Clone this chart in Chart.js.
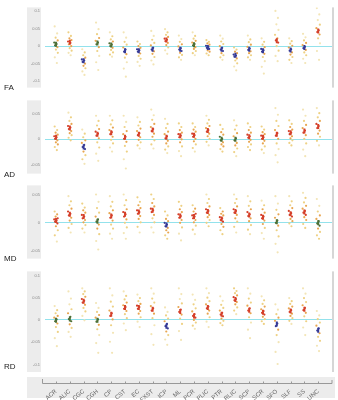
<!DOCTYPE html>
<html>
<head>
<meta charset="utf-8">
<script src="https://cdn.jsdelivr.net/npm/chart.js@4.4.1/dist/chart.umd.min.js"></script>
<style>
  body { margin: 0; background: #fff; }
  #wrap { position: relative; width: 338px; height: 400px; overflow: hidden; }
  #wrap canvas { position: absolute; left: 0; }
  .lab { position: absolute; left: 4px; font: 8px "Liberation Sans", Arial, sans-serif; color: #222; }
</style>
</head>
<body>
<div id="wrap">
  <canvas id="fa" width="338" height="95" style="top:0px"></canvas>
  <canvas id="ad" width="338" height="88" style="top:93px"></canvas>
  <canvas id="md" width="338" height="88" style="top:178px"></canvas>
  <canvas id="rd" width="338" height="136" style="top:264px"></canvas>
  <div class="lab" style="top:83px">FA</div>
  <div class="lab" style="top:170px">AD</div>
  <div class="lab" style="top:254px">MD</div>
  <div class="lab" style="top:362px">RD</div>
</div>
<script>
const tracts = ['ACR', 'ALIC', 'CGC', 'CGH', 'CP', 'CST', 'EC', 'FXST', 'ICP', 'ML',
                'PCR', 'PLIC', 'PTR', 'RLIC', 'SCP', 'SCR', 'SFO', 'SLF', 'SS', 'UNC'];

const faTicks = [-0.1, -0.05, 0, 0.05, 0.1];
const adTicks = [-0.05, 0, 0.05];
const mdTicks = [-0.05, 0, 0.05];
const rdTicks = [-0.1, -0.05, 0, 0.05, 0.1];

// all values below are x100
const faMeans = [0.5, 1.1, -4.2, 0.9, 0.3, -1.3, -1.3, -0.9, 1.7, -0.9, 0.4, -0.4, -0.9, -2.6, -0.9, -1.3, 1.5, -1.1, -0.4, 4.3];
const faPoints = [
  [5.6, 3.6, 2.4, 1.6, 1.0, 0.6, 0.2, -0.3, -1.0, -1.9, -3.2, -4.8],
  [3.9, 2.9, 2.2, 1.7, 1.3, 0.9, 0.5, 0.0, -0.6, -1.3, -1.9, -2.6],
  [-0.9, -1.8, -2.6, -3.3, -3.8, -4.1, -4.5, -5.0, -5.6, -6.3, -7.2, -8.2],
  [6.7, 4.8, 3.4, 2.3, 1.5, 1.0, 0.5, -0.3, -1.4, -2.8, -4.6, -6.8],
  [3.9, 2.8, 1.9, 1.3, 0.8, 0.4, 0.0, -0.5, -1.1, -1.8, -2.4, -3.0],
  [3.9, 2.4, 1.2, 0.4, -0.4, -1.0, -1.6, -2.3, -3.3, -4.6, -6.4, -8.7],
  [1.3, 0.6, 0.0, -0.5, -0.9, -1.2, -1.6, -2.1, -2.8, -3.6, -4.5, -5.6],
  [4.3, 2.9, 1.8, 0.9, 0.2, -0.5, -1.0, -1.5, -2.2, -3.1, -4.1, -5.2],
  [4.8, 3.9, 3.2, 2.6, 2.1, 1.8, 1.4, 0.9, 0.3, -0.4, -1.2, -2.2],
  [3.0, 2.0, 1.2, 0.5, -0.1, -0.6, -1.0, -1.4, -1.9, -2.5, -3.2, -3.9],
  [3.9, 2.9, 2.1, 1.5, 1.0, 0.6, 0.2, -0.3, -0.8, -1.4, -2.0, -2.6],
  [1.7, 1.2, 0.8, 0.4, 0.1, -0.2, -0.5, -0.8, -1.2, -1.6, -2.1, -2.6],
  [3.0, 2.1, 1.3, 0.6, 0.0, -0.5, -1.0, -1.4, -2.0, -2.6, -3.2, -3.9],
  [-0.4, -1.0, -1.6, -2.0, -2.4, -2.7, -3.0, -3.5, -4.1, -4.9, -5.8, -6.9],
  [3.0, 1.9, 1.1, 0.4, -0.2, -0.7, -1.1, -1.5, -2.0, -2.6, -3.2, -3.9],
  [2.2, 1.2, 0.4, -0.3, -0.8, -1.2, -1.6, -2.2, -3.1, -4.3, -5.9, -7.8],
  [10.0, 8.0, 6.2, 4.6, 3.2, 2.2, 1.6, 1.0, 0.0, -1.3, -2.8, -4.3],
  [2.2, 1.4, 0.7, 0.1, -0.4, -0.9, -1.3, -1.8, -2.4, -3.1, -3.9, -4.8],
  [3.5, 2.5, 1.6, 0.9, 0.3, -0.2, -0.6, -1.1, -1.8, -2.6, -3.6, -4.8],
  [10.8, 9.0, 7.4, 6.1, 5.1, 4.5, 4.0, 3.3, 2.2, 0.8, -1.4, -3.9]
];

const adMeans = [0.4, 2.2, -1.5, 1.0, 1.3, 0.4, 1.0, 1.8, 0.4, 0.7, 0.8, 1.7, 0.0, 0.0, 0.5, 0.4, 1.0, 1.3, 1.6, 2.5];
const adPoints = [
  [2.5, 1.8, 1.3, 0.9, 0.6, 0.4, 0.1, -0.2, -0.6, -1.0, -1.5, -2.1],
  [5.2, 4.3, 3.6, 3.0, 2.6, 2.3, 2.0, 1.6, 1.2, 0.8, 0.3, -0.2],
  [1.9, 1.1, 0.4, -0.2, -0.7, -1.1, -1.5, -1.9, -2.4, -3.1, -3.9, -4.8],
  [4.6, 3.6, 2.7, 2.0, 1.5, 1.1, 0.7, 0.2, -0.6, -1.6, -2.8, -4.2],
  [4.6, 3.7, 2.9, 2.3, 1.8, 1.4, 1.0, 0.5, -0.1, -0.8, -1.6, -2.4],
  [4.6, 3.4, 2.4, 1.6, 1.0, 0.5, 0.1, -0.5, -1.3, -2.4, -3.9, -5.7],
  [4.3, 3.4, 2.7, 2.1, 1.6, 1.2, 0.8, 0.4, -0.1, -0.6, -1.2, -1.8],
  [5.8, 4.7, 3.8, 3.0, 2.4, 2.0, 1.6, 1.1, 0.5, -0.2, -1.0, -1.8],
  [4.0, 3.0, 2.2, 1.5, 1.0, 0.6, 0.2, -0.3, -0.8, -1.4, -2.0, -2.7],
  [3.1, 2.4, 1.8, 1.3, 1.0, 0.7, 0.4, 0.0, -0.6, -1.4, -2.3, -3.3],
  [3.1, 2.4, 1.9, 1.5, 1.1, 0.8, 0.5, 0.1, -0.4, -1.0, -1.7, -2.4],
  [4.6, 3.8, 3.1, 2.6, 2.2, 1.8, 1.5, 1.1, 0.6, 0.1, -0.5, -1.2],
  [2.8, 2.0, 1.4, 0.9, 0.5, 0.1, -0.2, -0.6, -1.0, -1.4, -1.9, -2.4],
  [3.7, 2.7, 1.9, 1.2, 0.6, 0.2, -0.2, -0.7, -1.2, -1.8, -2.5, -3.3],
  [3.1, 2.4, 1.8, 1.3, 0.9, 0.6, 0.3, -0.1, -0.5, -1.0, -1.5, -2.1],
  [2.5, 1.9, 1.4, 1.0, 0.7, 0.4, 0.1, -0.3, -0.8, -1.4, -2.0, -2.7],
  [6.1, 4.8, 3.6, 2.6, 1.8, 1.2, 0.7, 0.1, -0.8, -1.9, -3.1, -4.5],
  [3.7, 3.0, 2.4, 1.9, 1.6, 1.3, 1.0, 0.6, 0.2, -0.2, -0.7, -1.2],
  [5.8, 4.6, 3.6, 2.8, 2.2, 1.7, 1.3, 0.8, 0.1, -0.8, -2.0, -3.3],
  [6.1, 5.1, 4.3, 3.6, 3.0, 2.6, 2.2, 1.7, 1.1, 0.5, -0.3, -1.2]
];

const mdMeans = [0.4, 1.5, 1.1, 0.3, 1.2, 1.5, 1.9, 2.2, -0.4, 1.2, 1.1, 2.0, 0.7, 2.0, 1.4, 1.0, 0.2, 1.6, 1.9, 0.0];
const mdPoints = [
  [2.0, 1.5, 1.1, 0.8, 0.6, 0.4, 0.2, -0.1, -0.6, -1.3, -2.2, -3.3],
  [4.7, 3.8, 3.1, 2.5, 2.0, 1.6, 1.3, 0.9, 0.4, -0.2, -0.9, -1.7],
  [3.4, 2.7, 2.2, 1.8, 1.4, 1.1, 0.8, 0.5, 0.1, -0.4, -1.0, -1.7],
  [5.0, 3.7, 2.6, 1.8, 1.1, 0.6, 0.2, -0.3, -1.0, -2.0, -3.2, -4.7],
  [4.7, 3.7, 2.9, 2.2, 1.7, 1.3, 0.9, 0.4, -0.3, -1.0, -1.9, -2.8],
  [5.0, 4.0, 3.1, 2.4, 1.9, 1.5, 1.1, 0.6, 0.0, -0.8, -1.8, -2.8],
  [4.5, 3.7, 3.1, 2.6, 2.2, 1.9, 1.6, 1.2, 0.7, 0.1, -0.7, -1.7],
  [5.0, 4.2, 3.5, 2.9, 2.5, 2.2, 1.9, 1.4, 0.8, 0.1, -0.8, -1.7],
  [2.0, 1.3, 0.7, 0.3, 0.0, -0.3, -0.6, -0.9, -1.3, -1.7, -2.2, -2.8],
  [3.7, 3.0, 2.4, 1.9, 1.5, 1.2, 0.9, 0.5, 0.0, -0.8, -1.9, -3.1],
  [3.1, 2.5, 2.0, 1.6, 1.3, 1.1, 0.8, 0.5, 0.1, -0.5, -1.2, -2.0],
  [5.0, 4.2, 3.5, 2.9, 2.4, 2.1, 1.8, 1.4, 1.0, 0.5, 0.0, -0.6],
  [2.6, 2.0, 1.6, 1.3, 1.0, 0.8, 0.5, 0.2, -0.2, -0.7, -1.3, -2.0],
  [5.0, 4.2, 3.5, 2.9, 2.4, 2.1, 1.8, 1.4, 0.8, 0.2, -0.7, -1.7],
  [4.7, 3.8, 3.0, 2.4, 1.9, 1.5, 1.2, 0.8, 0.3, -0.4, -1.2, -2.0],
  [3.9, 3.1, 2.4, 1.8, 1.4, 1.1, 0.8, 0.4, -0.2, -0.9, -1.8, -2.8],
  [4.7, 3.4, 2.3, 1.5, 0.9, 0.4, 0.0, -0.5, -1.3, -2.4, -3.7, -5.2],
  [4.7, 3.8, 3.1, 2.6, 2.1, 1.7, 1.4, 1.1, 0.7, 0.3, -0.1, -0.6],
  [5.3, 4.4, 3.6, 3.0, 2.5, 2.1, 1.8, 1.4, 1.0, 0.5, -0.2, -0.9],
  [4.2, 3.0, 2.0, 1.3, 0.7, 0.3, -0.1, -0.5, -1.0, -1.6, -2.2, -2.8]
];

const rdMeans = [-0.1, 0.2, 4.2, -0.1, 1.3, 2.8, 2.8, 2.4, -1.4, 1.9, 0.9, 2.8, 1.3, 4.6, 2.2, 1.7, -0.9, 2.0, 2.4, -2.3];
const rdPoints = [
  [3.1, 2.2, 1.5, 0.9, 0.5, 0.1, -0.3, -0.8, -1.6, -2.7, -4.1, -5.9],
  [6.4, 4.8, 3.5, 2.4, 1.5, 0.7, 0.2, -0.3, -1.0, -1.8, -2.7, -3.8],
  [7.1, 6.4, 5.8, 5.2, 4.7, 4.3, 3.9, 3.4, 2.7, 1.9, 0.9, -0.1],
  [3.8, 2.7, 1.8, 1.1, 0.5, 0.1, -0.4, -1.1, -2.1, -3.4, -5.2, -7.4],
  [7.1, 5.5, 4.1, 3.0, 2.1, 1.5, 0.9, 0.1, -1.2, -2.9, -4.9, -7.4],
  [6.4, 5.4, 4.6, 3.9, 3.3, 2.9, 2.5, 2.0, 1.3, 0.4, -0.8, -2.3],
  [5.7, 4.9, 4.2, 3.6, 3.2, 2.9, 2.5, 2.0, 1.4, 0.6, -0.4, -1.6],
  [7.1, 5.9, 4.8, 3.9, 3.1, 2.6, 2.1, 1.4, 0.4, -1.2, -3.2, -5.6],
  [2.8, 1.8, 1.0, 0.3, -0.3, -0.9, -1.4, -1.9, -2.6, -3.4, -4.4, -5.6],
  [7.1, 5.8, 4.7, 3.7, 2.9, 2.3, 1.8, 1.2, 0.3, -0.9, -2.5, -4.5],
  [5.7, 4.5, 3.5, 2.6, 1.9, 1.3, 0.9, 0.5, 0.0, -0.6, -1.3, -2.0],
  [7.1, 6.0, 5.0, 4.2, 3.5, 3.0, 2.6, 2.1, 1.4, 0.6, -0.4, -1.6],
  [5.3, 4.3, 3.4, 2.7, 2.1, 1.6, 1.2, 0.8, 0.3, -0.2, -0.7, -1.2],
  [7.1, 6.5, 6.0, 5.5, 5.1, 4.7, 4.4, 4.0, 3.5, 2.8, 2.1, 1.3],
  [7.1, 5.9, 4.8, 3.9, 3.2, 2.6, 2.1, 1.5, 0.6, -0.6, -2.2, -4.1],
  [5.3, 4.4, 3.6, 3.0, 2.4, 2.0, 1.6, 1.2, 0.7, 0.2, -0.3, -0.9],
  [3.5, 2.3, 1.3, 0.5, -0.2, -0.8, -1.4, -2.2, -3.4, -5.0, -7.2, -9.9],
  [4.9, 4.2, 3.6, 3.0, 2.6, 2.2, 1.8, 1.4, 0.9, 0.4, -0.2, -0.9],
  [7.1, 5.9, 4.9, 4.0, 3.3, 2.7, 2.2, 1.6, 0.8, -0.3, -1.7, -3.4],
  [2.0, 1.0, 0.2, -0.6, -1.3, -1.9, -2.4, -3.0, -3.8, -4.7, -5.8, -7.0]
];

// horizontal spread of the dots inside a column, in category units
const jitter = [-0.10, 0.08, -0.03, 0.12, -0.13, 0.04, -0.07, 0.10, -0.01, 0.13, -0.09, 0.06];

const panels = [
  { id: 'fa', means: faMeans, points: faPoints, ticks: faTicks, min: -0.118, max: 0.11, pad: [3, 5], redAt: 1.0, blueAt: -0.4 },
  { id: 'ad', means: adMeans, points: adPoints, ticks: adTicks, min: -0.067, max: 0.076, pad: [4, 5], redAt: 0.3, blueAt: -0.3 },
  { id: 'md', means: mdMeans, points: mdPoints, ticks: mdTicks, min: -0.063, max: 0.066, pad: [4, 4], redAt: 0.4, blueAt: -0.3 },
  { id: 'rd', means: rdMeans, points: rdPoints, ticks: rdTicks, min: -0.117, max: 0.109, pad: [4, 0], redAt: 0.5, blueAt: -0.5, xAxis: true }
];

function meanColor(m, p) {
  if (m >= p.redAt) return '#d5402a';
  if (m <= p.blueAt) return '#363a96';
  return '#4d6f36';
}

function dotColor(raw, p) {
  if (!raw) return '#f1e0a6';
  const d = Math.abs(raw.y * 100 - raw.m);
  if (d <= 0.5) return meanColor(raw.m, p);
  if (d <= 1.4) return '#e8a650';
  if (d <= 2.8) return '#eed184';
  return '#f3e5b6';
}

const stripPlugin = {
  id: 'strips',
  beforeDraw(chart, args, opts) {
    const { ctx, chartArea: a } = chart;
    ctx.save();
    ctx.fillStyle = '#ececec';
    ctx.fillRect(27, a.top, 14, a.bottom - a.top);
    ctx.fillStyle = '#d6d6d6';
    ctx.fillRect(a.right, a.top, 2, a.bottom - a.top);
    if (opts.xAxis) {
      const xs = chart.scales.x;
      ctx.fillStyle = '#ececec';
      ctx.fillRect(27, a.bottom + 5, 308, 21);
      const yl = a.bottom + 11;
      ctx.strokeStyle = '#999';
      ctx.lineWidth = 1;
      ctx.beginPath();
      ctx.moveTo(42.5, yl - 4);
      ctx.lineTo(42.5, yl + 0.5);
      ctx.lineTo(a.right, yl + 0.5);
      ctx.lineTo(a.right, yl - 3);
      tracts.forEach((t, i) => {
        const x = Math.round(xs.getPixelForValue(i)) + 0.5;
        ctx.moveTo(x, yl + 0.5);
        ctx.lineTo(x, yl - 1.5);
      });
      ctx.stroke();
    }
    ctx.restore();
  }
};

panels.forEach(p => {
  const dots = [];
  p.points.forEach((col, i) => {
    col.forEach((v, j) => dots.push({ x: i + jitter[j], y: v / 100, m: p.means[i] }));
  });
  const meanPts = p.means.map((m, i) => ({ x: i, y: m / 100, m: m }));

  new Chart(document.getElementById(p.id), {
    type: 'scatter',
    data: {
      datasets: [
        {
          data: meanPts,
          order: 0,
          pointStyle: 'line',
          rotation: 90,
          radius: 2.5,
          borderWidth: 2,
          borderColor: ctx => ctx.raw ? meanColor(ctx.raw.m, p) : '#000',
          backgroundColor: ctx => ctx.raw ? meanColor(ctx.raw.m, p) : '#000'
        },
        {
          data: dots,
          order: 1,
          radius: 1.1,
          borderWidth: 0,
          backgroundColor: ctx => dotColor(ctx.raw, p)
        }
      ]
    },
    options: {
      responsive: false,
      animation: false,
      events: [],
      layout: { padding: { left: 27, right: 5, top: p.pad[0], bottom: p.pad[1] } },
      plugins: {
        legend: { display: false },
        tooltip: { enabled: false },
        strips: { xAxis: !!p.xAxis }
      },
      scales: {
        x: {
          type: 'linear',
          display: !!p.xAxis,
          min: -0.8,
          max: 20.0,
          afterBuildTicks: s => { s.ticks = tracts.map((t, i) => ({ value: i })); },
          afterFit: s => { if (p.xAxis) s.height = 28; },
          grid: { display: false },
          border: { display: false },
          ticks: {
            autoSkip: false,
            minRotation: 40,
            maxRotation: 40,
            padding: 8,
            color: '#666',
            font: { size: 6, family: 'Liberation Sans' },
            callback: v => tracts[v]
          }
        },
        y: {
          min: p.min,
          max: p.max,
          afterBuildTicks: s => { s.ticks = p.ticks.map(v => ({ value: v })); },
          afterFit: s => { s.width = 18; },
          grid: {
            drawTicks: false,
            color: ctx => ctx.tick && ctx.tick.value === 0 ? '#93e2ec' : 'rgba(0,0,0,0)'
          },
          border: { display: false },
          ticks: {
            padding: 5,
            color: '#888',
            font: { size: 4, family: 'Liberation Sans' },
            callback: v => String(v)
          }
        }
      }
    },
    plugins: [stripPlugin]
  });
});
</script>
</body>
</html>
